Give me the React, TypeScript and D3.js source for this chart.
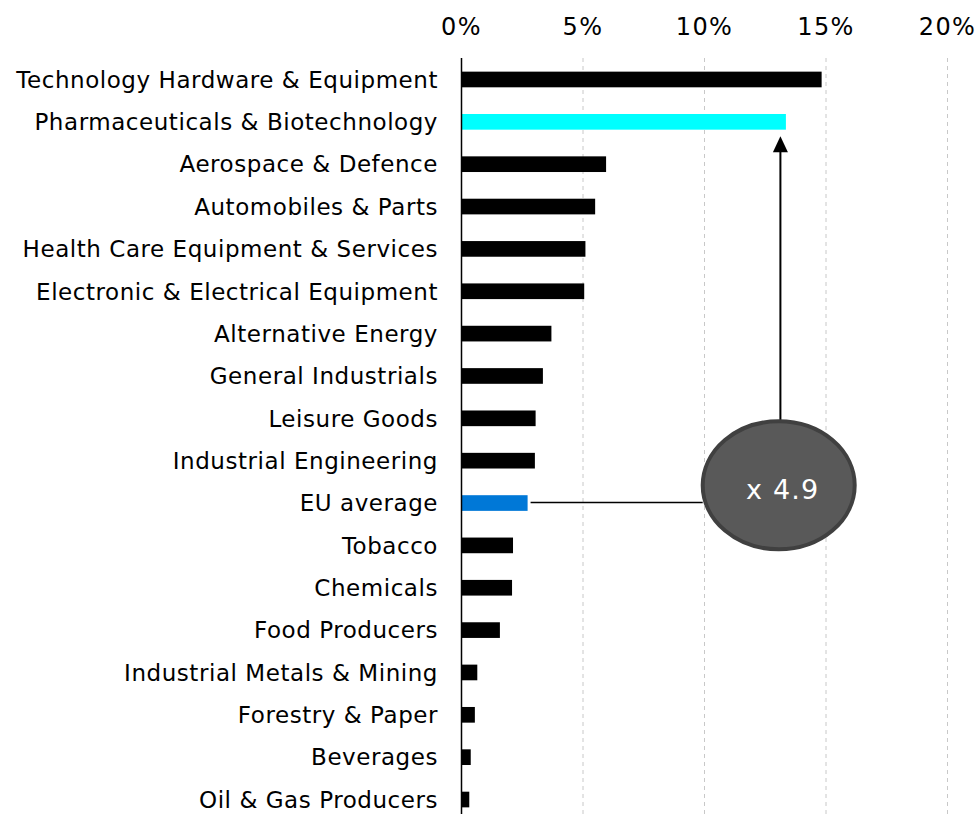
import React from "react";
import * as d3 from "d3";

const categories = [
  "Technology Hardware & Equipment",
  "Pharmaceuticals & Biotechnology",
  "Aerospace & Defence",
  "Automobiles & Parts",
  "Health Care Equipment & Services",
  "Electronic & Electrical Equipment",
  "Alternative Energy",
  "General Industrials",
  "Leisure Goods",
  "Industrial Engineering",
  "EU average",
  "Tobacco",
  "Chemicals",
  "Food Producers",
  "Industrial Metals & Mining",
  "Forestry & Paper",
  "Beverages",
  "Oil & Gas Producers",
];
const values = [14.82, 13.35, 5.95, 5.5, 5.1, 5.05, 3.7, 3.35, 3.05, 3.02, 2.72, 2.12, 2.08, 1.58, 0.65, 0.55, 0.38, 0.32];
const xTicks = [0, 5, 10, 15, 20];
const ratioLabel = "x 4.9";

const W = 975;
const H = 814;
const FONT = "Verdana, 'DejaVu Sans', sans-serif";

export default function App() {
  const x = d3.scaleLinear().domain([0, 20]).range([461.5, 947.5]);
  const y = d3
    .scaleBand<string>()
    .domain(categories)
    .range([58.3, 820.7])
    .paddingInner(0.63)
    .paddingOuter(0.315);
  const bw = y.bandwidth();
  const colorFor = (c: string) =>
    c === "Pharmaceuticals & Biotechnology" ? "#00FFFF" : c === "EU average" ? "#0078D7" : "#000000";

  const pharma = categories[1];
  const eu = "EU average";
  const pharmaVal = values[1];
  const euVal = values[categories.indexOf(eu)];
  const ell = { cx: 778.7, cy: 485.3, rx: 76, ry: 64 };
  const arrowX = x(pharmaVal) - 5.5;
  const tipY = (y(pharma) as number) + bw + 6.5;
  const euY = (y(eu) as number) + bw / 2;

  return (
    <div style={{ position: "fixed", left: 0, top: 0, width: W, height: H, background: "#fff" }}>
      <svg width={W} height={H} style={{ display: "block" }}>
        <rect width={W} height={H} fill="#fff" />
        {xTicks.slice(1).map((t) => (
          <line
            key={t}
            x1={x(t)}
            x2={x(t)}
            y1={58}
            y2={H}
            stroke="#c8c8c8"
            strokeWidth={1}
            strokeDasharray="4,4"
          />
        ))}
        {xTicks.map((t) => (
          <text
            key={"t" + t}
            x={x(t)}
            y={35}
            textAnchor="middle"
            fontFamily={FONT}
            fontSize={24}
            letterSpacing={1.4}
            fill="#000"
          >
            {t + "%"}
          </text>
        ))}
        {categories.map((c, i) => (
          <g key={c}>
            <rect x={x(0)} y={y(c)} width={x(values[i]) - x(0)} height={bw} fill={colorFor(c)} />
            <text
              x={438}
              y={(y(c) as number) + bw / 2}
              dy="0.36em"
              textAnchor="end"
              fontFamily={FONT}
              fontSize={23}
              letterSpacing={0.55}
              fill="#000"
            >
              {c}
            </text>
          </g>
        ))}
        <line x1={x(0)} x2={x(0)} y1={58} y2={H} stroke="#000" strokeWidth={1.5} />
        {/* connector */}
        <line x1={x(euVal) + 3} x2={ell.cx - ell.rx} y1={euY - 0.5} y2={euY - 0.5} stroke="#000" strokeWidth={1.5} />
        {/* arrow */}
        <line x1={arrowX} x2={arrowX} y1={ell.cy - ell.ry} y2={tipY + 12} stroke="#000" strokeWidth={2} />
        <path
          d={`M${arrowX},${tipY} L${arrowX - 7.5},${tipY + 16} L${arrowX + 7.5},${tipY + 16} Z`}
          fill="#000"
        />
        <ellipse cx={ell.cx} cy={ell.cy} rx={ell.rx} ry={ell.ry} fill="#595959" stroke="#404040" strokeWidth={4} />
        <text
          x={ell.cx + 4}
          y={ell.cy + 13.5}
          textAnchor="middle"
          fontFamily={FONT}
          fontSize={27}
          letterSpacing={1.2}
          fill="#fff"
        >
          {ratioLabel}
        </text>
      </svg>
    </div>
  );
}
